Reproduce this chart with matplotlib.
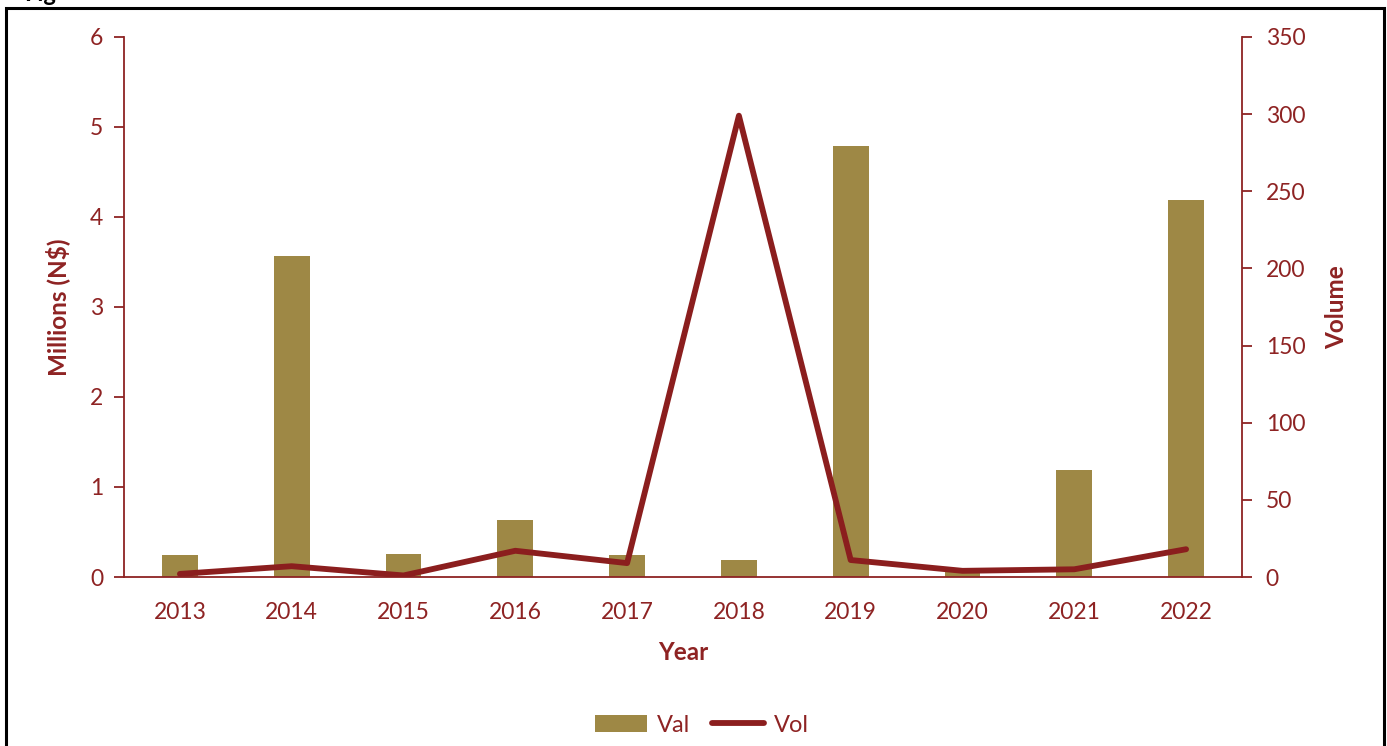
import matplotlib
matplotlib.use("Agg")
import matplotlib.pyplot as plt
from matplotlib.patches import Rectangle
from matplotlib.lines import Line2D
from matplotlib.patches import Patch

years = ["2013", "2014", "2015", "2016", "2017", "2018", "2019", "2020", "2021", "2022"]
val_millions = [0.24, 3.57, 0.26, 0.63, 0.24, 0.19, 4.79, 0.08, 1.19, 4.19]
vol = [2, 7, 1, 17, 9, 299, 11, 4, 5, 18]

RED = "#8E2323"
BAR = "#9E8845"
LINE = "#8B1E1E"

plt.rcParams['font.family'] = ['Lato', 'DejaVu Sans']

W, H = 1387, 746
fig = plt.figure(figsize=(W / 100, H / 100), dpi=100)

# outer frame
fig.patches.append(Rectangle((6 / W, -0.05), (1384 - 6) / W, 1.05 - 8 / H,
                             transform=fig.transFigure, fill=False,
                             edgecolor="black", linewidth=2.2))
fig.text(24 / W, 1 - 1.0 / H, "Fig", fontsize=17, fontweight="bold",
         color="black", va="baseline", ha="left")

ax = fig.add_axes([124 / W, 1 - 577 / H, (1242 - 124) / W, (577 - 37) / H])
ax2 = ax.twinx()

x = list(range(len(years)))
ax.bar(x, val_millions, width=0.32, color=BAR, zorder=2)
ax2.plot(x, vol, color=LINE, linewidth=4.2, solid_capstyle="round", zorder=3)

ax.set_xlim(-0.5, len(years) - 0.5)
ax.set_ylim(0, 6)
ax2.set_ylim(0, 350)
ax.set_yticks(range(0, 7))
ax2.set_yticks(range(0, 351, 50))
ax.set_xticks(x)
ax.set_xticklabels(years)

for a in (ax, ax2):
    a.set_facecolor("none")
    for s in a.spines.values():
        s.set_visible(False)
    a.tick_params(colors=RED, labelsize=16.5, length=7, width=1.3)

ax.spines["left"].set_visible(True)
ax.spines["left"].set_color(RED)
ax.spines["left"].set_linewidth(1.3)
ax.spines["bottom"].set_visible(True)
ax.spines["bottom"].set_color(RED)
ax.spines["bottom"].set_linewidth(1.3)
ax2.spines["right"].set_visible(True)
ax2.spines["right"].set_color(RED)
ax2.spines["right"].set_linewidth(1.3)

ax.tick_params(axis="x", length=0, pad=18)
ax.tick_params(axis="y", pad=8)
ax2.tick_params(axis="y", pad=10)

ax.set_xlabel("Year", fontsize=17.5, fontweight="bold", color=RED, labelpad=13)
ax.set_ylabel("Millions (N$)", fontsize=17.5, fontweight="bold", color=RED, labelpad=14)
ax2.set_ylabel("Volume", fontsize=17.5, fontweight="bold", color=RED, labelpad=14)

handles = [Patch(facecolor=BAR, edgecolor="none"),
           Line2D([0], [0], color=LINE, linewidth=4.2, solid_capstyle="round")]
leg = fig.legend(handles, ["Val", "Vol"], loc="center", bbox_to_anchor=(702 / W, 1 - 725 / H),
                 ncol=2, frameon=False, fontsize=17, handlelength=2.2, columnspacing=0.9,
                 handletextpad=0.45)
for t in leg.get_texts():
    t.set_color(RED)

fig.savefig("out.png", dpi=100, facecolor="white")
